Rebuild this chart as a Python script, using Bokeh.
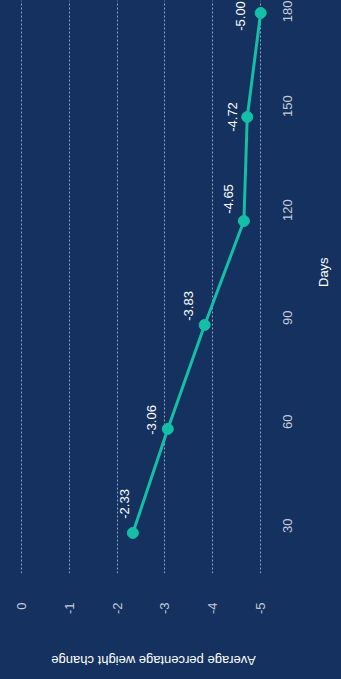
import math
from bokeh.plotting import figure
from bokeh.layouts import column
from bokeh.models import Range1d, FixedTicker, ColumnDataSource
from bokeh.embed import file_html
from bokeh.resources import INLINE
from bokeh.core.properties import value

# ---- data ----
days = [30, 60, 90, 120, 150, 180]
weight_change = [-2.33, -3.06, -3.83, -4.65, -4.72, -5.00]
value_ticks = [0, -1, -2, -3, -4, -5]
value_tick_labels = ["0", "-1", "-2", "-3", "-4", "-5"]
day_ticks = [30, 60, 90, 120, 150, 180]
day_tick_labels = ["30", "60", "90", "120", "150", "180"]
value_title = "Average percentage weight change"
day_title = "Days"

# ---- style ----
BG = "#14315f"
TEAL = "#13bfa6"
TICK_COLOR = "#c5ccd9"
FONT = "Liberation Sans"
label_dx = [-8, -16, -16, -15, -15, -20]
label_dy = [-29, -9, -19, -22, 0, 3]

X_START, X_END = 0.436, -5.373
Y_START, Y_END = 18.3, 183.6

src = ColumnDataSource(dict(
    wc=weight_change, day=days,
    lbl=[f"{v:.2f}" for v in weight_change],
    dx=label_dx, dy=label_dy,
))

x_range = Range1d(X_START, X_END)

p = figure(width=341, height=640, output_backend="svg", toolbar_location=None,
           x_range=x_range, y_range=Range1d(Y_START, Y_END),
           y_axis_location="right",
           min_border_left=0, min_border_top=0, min_border_right=61, min_border_bottom=67,
           background_fill_color=BG, border_fill_color=BG, outline_line_color=None,
           styles={"background-color": BG})

xa = p.xaxis[0]
ya = p.yaxis[0]
xa.ticker = FixedTicker(ticks=value_ticks)
xa.major_label_overrides = {t: l for t, l in zip(value_ticks, value_tick_labels)}
ya.ticker = FixedTicker(ticks=day_ticks)
ya.major_label_overrides = {t: l for t, l in zip(day_ticks, day_tick_labels)}
ya.axis_label = day_title

for ax in (xa, ya):
    ax.axis_line_color = None
    ax.major_tick_line_color = None
    ax.minor_tick_line_color = None
    ax.major_tick_out = 0
    ax.major_tick_in = 0
    ax.major_label_text_color = TICK_COLOR
    ax.major_label_text_font = FONT
    ax.major_label_text_font_size = "13px"
    ax.major_label_orientation = math.pi / 2
    ax.axis_label_text_color = "white"
    ax.axis_label_text_font = FONT
    ax.axis_label_text_font_style = "normal"
    ax.axis_label_text_font_size = "13px"

xa.major_label_standoff = 29
ya.major_label_standoff = 9
ya.axis_label_standoff = 24
ya.axis_label_orientation = math.pi / 2

p.xgrid.ticker = FixedTicker(ticks=value_ticks)
p.xgrid.grid_line_color = "white"
p.xgrid.grid_line_alpha = 0.55
p.xgrid.grid_line_dash = "2 2"
p.xgrid.grid_line_width = 1
p.ygrid.grid_line_color = None

p.line(x="wc", y="day", source=src, line_color=TEAL, line_width=3)
p.scatter(x="wc", y="day", source=src, size=11, fill_color=TEAL, line_color=TEAL)
p.text(x="wc", y="day", text="lbl", source=src, angle=math.pi / 2,
       text_align="center", text_baseline="middle", x_offset="dx", y_offset="dy",
       text_color="white", text_font=value(FONT), text_font_size="13px")

# strip below the chart holding the (upside-down) value-axis title
t = figure(width=341, height=39, output_backend="svg", toolbar_location=None,
           x_range=x_range, y_range=Range1d(0, 1),
           x_axis_type=None, y_axis_type=None,
           min_border_left=0, min_border_top=0, min_border_right=61, min_border_bottom=0,
           background_fill_color=BG, border_fill_color=BG, outline_line_color=None,
           styles={"background-color": BG})
t.xgrid.grid_line_color = None
t.ygrid.grid_line_color = None
t.text(x=[(X_START + X_END) / 2], y=[0.5], text=[value_title], angle=math.pi,
       x_offset=14, text_align="center", text_baseline="middle",
       text_color="white", text_font=value(FONT), text_font_size="13px")

layout = column(p, t, spacing=0, styles={"background-color": BG})
open("out.html", "w").write(file_html(layout, INLINE))
